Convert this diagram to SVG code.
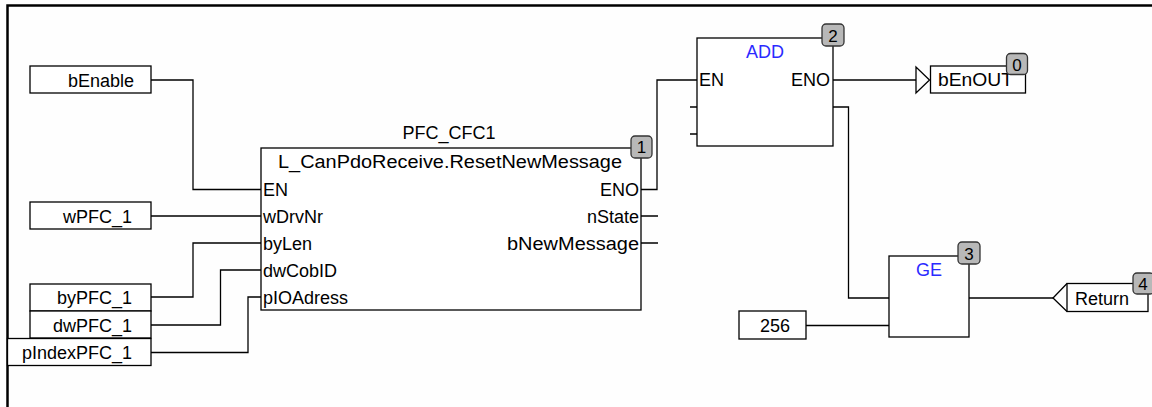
<svg xmlns="http://www.w3.org/2000/svg" width="1152" height="407" viewBox="0 0 1152 407">
<style>
.t{font-family:"Liberation Sans",Arial,sans-serif;font-size:18px;fill:#000}
.b{fill:#fff;stroke:#000;stroke-width:1.3}
.w{fill:none;stroke:#000;stroke-width:1.3}
.blue{fill:#2b2bff}
.bd{fill:#b8b8b8;stroke:#333;stroke-width:1.3}
.bn{font-family:"Liberation Sans",Arial,sans-serif;font-size:17px;fill:#000;text-anchor:middle}
.e{text-anchor:end}
.m{text-anchor:middle}
</style>
<rect width="1152" height="407" fill="#fefefe"/>
<path d="M7.5 407V5.5H1152" fill="none" stroke="#000" stroke-width="2.5"/>
<g id="connectors">
<path class="w" d="M151 80H193V189.5H261"/>
<path class="w" d="M151 216H261"/>
<path class="w" d="M151 297H193V243H261"/>
<path class="w" d="M151 325H220.5V270H261"/>
<path class="w" d="M151 352.5H248V297H261"/>
<path class="w" d="M641 189.5H657V80H697"/>
<path class="w" d="M641 216H658M641 243H658"/>
<path class="w" d="M690 107H697M690 134H697"/>
<path class="w" d="M833 80H916"/>
<path class="w" d="M833 107H848.5V298H889"/>
<path class="w" d="M806 325.5H889"/>
<path class="w" d="M969 298H1053"/>
</g>
<g id="in_bEnable"><rect class="b" x="30" y="66" width="121" height="27"/><text class="t e" x="134" y="87">bEnable</text></g>
<g id="in_wPFC_1"><rect class="b" x="30" y="202" width="121" height="27"/><text class="t e" x="132" y="223">wPFC_1</text></g>
<g id="in_byPFC_1"><rect class="b" x="30" y="284" width="121" height="27"/><text class="t e" x="132" y="304">byPFC_1</text></g>
<g id="in_dwPFC_1"><rect class="b" x="30" y="311" width="121" height="27"/><text class="t e" x="132" y="331.5">dwPFC_1</text></g>
<g id="in_pIndexPFC_1"><rect class="b" x="7.5" y="338.5" width="143.5" height="27"/><text class="t e" x="132" y="359">pIndexPFC_1</text></g>
<g id="in_256"><rect class="b" x="739" y="311" width="67" height="28"/><text class="t e" x="790" y="332">256</text></g>
<g id="block1">
<text class="t m" x="449" y="139">PFC_CFC1</text>
<rect class="b" x="261" y="148" width="380" height="162"/>
<text class="t m" x="450" y="168" textLength="344" lengthAdjust="spacingAndGlyphs">L_CanPdoReceive.ResetNewMessage</text>
<text class="t" x="263" y="196">EN</text>
<text class="t" x="263" y="223">wDrvNr</text>
<text class="t" x="263" y="250">byLen</text>
<text class="t" x="263" y="277">dwCobID</text>
<text class="t" x="263" y="303.5">pIOAdress</text>
<text class="t e" x="639" y="196">ENO</text>
<text class="t e" x="639" y="223">nState</text>
<text class="t e" x="639" y="250" textLength="132" lengthAdjust="spacingAndGlyphs">bNewMessage</text>
<rect class="bd" x="631" y="136" width="21" height="22" rx="4"/><text class="bn" x="641.5" y="153">1</text>
</g>
<g id="block2">
<rect class="b" x="697" y="38" width="136" height="108"/>
<text class="t m blue" x="765" y="58">ADD</text>
<text class="t" x="699" y="86">EN</text>
<text class="t e" x="830" y="86">ENO</text>
<rect class="bd" x="822" y="24" width="22" height="22" rx="4"/><text class="bn" x="833" y="41.5">2</text>
</g>
<g id="block3">
<rect class="b" x="889" y="256" width="80" height="81"/>
<text class="t m blue" x="929" y="276">GE</text>
<rect class="bd" x="958" y="242" width="22" height="22" rx="4"/><text class="bn" x="969" y="259.5">3</text>
</g>
<g id="out_bEnOUT">
<path class="w" d="M916 67V93L929.5 80Z"/>
<rect class="b" x="930.5" y="66" width="95" height="27"/>
<text class="t" x="938" y="86" textLength="75" lengthAdjust="spacingAndGlyphs">bEnOUT</text>
<rect class="bd" x="1006.5" y="53.5" width="21" height="21" rx="4"/><text class="bn" x="1017" y="70.5">0</text>
</g>
<g id="ret_Return">
<path class="w" d="M1067 283.5L1053 298L1067 311.5"/>
<rect class="b" x="1067" y="283.5" width="81" height="28"/>
<text class="t" x="1075" y="305">Return</text>
<rect class="bd" x="1133" y="273" width="21" height="21" rx="4"/><text class="bn" x="1143" y="290">4</text>
</g>
</svg>
